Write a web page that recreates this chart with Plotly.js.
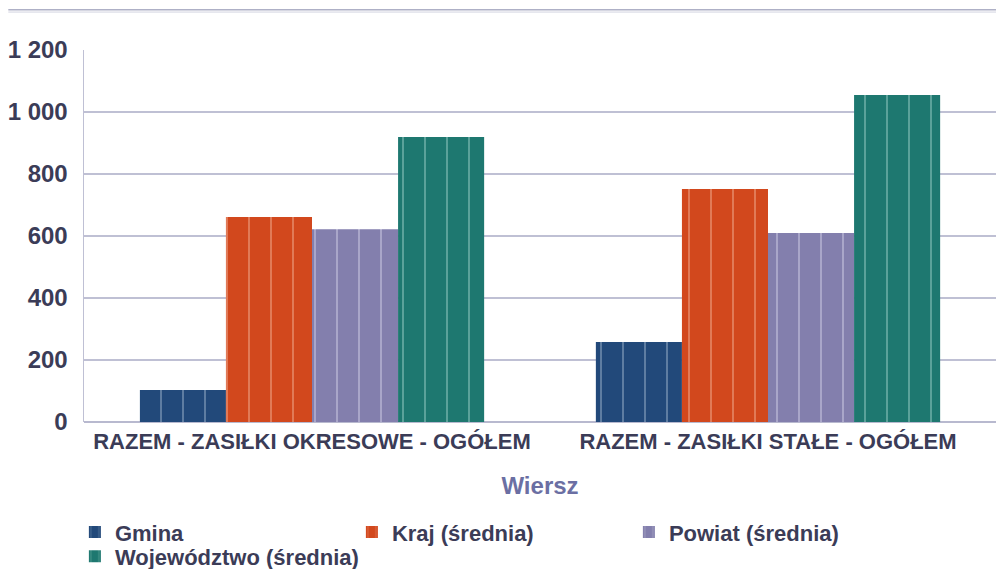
<!DOCTYPE html>
<html>
<head>
<meta charset="utf-8">
<script src="https://cdn.plot.ly/plotly-3.0.1.min.js"></script>
<style>
  html, body { margin: 0; padding: 0; background: #fff; }
  #chart { width: 996px; height: 569px; }
</style>
</head>
<body>
<div id="chart"></div>
<script>
// dane wykresu
const categories = ['RAZEM - ZASIŁKI OKRESOWE - OGÓŁEM', 'RAZEM - ZASIŁKI STAŁE - OGÓŁEM'];
const seriesNames = ['Gmina', 'Kraj (średnia)', 'Powiat (średnia)', 'Województwo (średnia)'];
const gmina = [103, 258];
const kraj = [661, 752];
const powiat = [622, 610];
const wojewodztwo = [919, 1055];
const yTicks = [0, 200, 400, 600, 800, 1000, 1200];

const seriesValues = [gmina, kraj, powiat, wojewodztwo];
const baseColors = ['#22497a', '#d2481d', '#837fad', '#1e7870'];
const stripeColors = ['#9fb4cc', '#f2b095', '#d2d0e6', '#9ccfc6'];
// legenda w dwóch wierszach: trzy pierwsze serie w pierwszym, Województwo w drugim
const legendRefs = ['legend', 'legend', 'legend', 'legend2'];

const fontFamily = '"Liberation Sans", Arial, sans-serif';
const textColor = '#3b3c57';

const traces = seriesValues.map((vals, i) => ({
    type: 'bar',
    name: seriesNames[i],
    x: categories,
    y: vals,
    legend: legendRefs[i],
    marker: {
        color: baseColors[i],
        line: { width: 0 },
        pattern: {
            shape: '|',
            bgcolor: baseColors[i],
            fgcolor: stripeColors[i],
            fgopacity: 0.55,
            size: 22,
            solidity: 0.08
        }
    },
    hoverinfo: 'y+name'
}));

const legendBase = {
    orientation: 'h',
    x: -0.010,
    xanchor: 'left',
    yanchor: 'top',
    bgcolor: 'rgba(0,0,0,0)',
    entrywidth: 232,
    entrywidthmode: 'pixels',
    font: { family: fontFamily, size: 22, color: textColor, weight: 'bold' },
    itemwidth: 30,
    tracegroupgap: 0
};

const layout = {
    width: 996,
    height: 569,
    margin: { l: 84, r: 0, t: 50, b: 147, autoexpand: false },
    paper_bgcolor: '#ffffff',
    plot_bgcolor: '#ffffff',
    barmode: 'group',
    bargap: 0.245,
    bargroupgap: 0,
    separators: ', ',
    font: { family: fontFamily, color: textColor, size: 20, weight: 'bold' },
    xaxis: {
        type: 'category',
        tickfont: { family: fontFamily, size: 22, color: textColor, weight: 'bold' },
        ticks: '',
        showline: false,
        ticklabelstandoff: 4,
        title: {
            text: 'Wiersz',
            font: { family: fontFamily, size: 24, color: '#6b6fa3', weight: 'bold' },
            standoff: 24
        }
    },
    yaxis: {
        range: [0, 1200],
        tickvals: yTicks,
        separatethousands: true,
        tickfont: { family: fontFamily, size: 24, color: textColor, weight: 'bold' },
        gridcolor: '#bfc0d4',
        gridwidth: 1.5,
        zeroline: true,
        zerolinecolor: '#b8b9cf',
        zerolinewidth: 2,
        showline: true,
        linecolor: '#bfc0d4',
        linewidth: 1.5,
        ticks: '',
        ticklabelstandoff: 10
    },
    legend: Object.assign({}, legendBase, { y: -0.240 }),
    legend2: Object.assign({}, legendBase, { y: -0.305, entrywidth: 320 }),
    shapes: [
        { type: 'line', xref: 'paper', yref: 'paper', x0: -0.083, x1: 1, y0: 1.108, y1: 1.108,
          line: { color: '#aeb0c6', width: 1.5 } },
        { type: 'line', xref: 'paper', yref: 'paper', x0: -0.083, x1: 1, y0: 1.102, y1: 1.102,
          line: { color: '#d2d3e0', width: 1 } }
    ],
    showlegend: true
};

Plotly.newPlot('chart', traces, layout, { displayModeBar: false, staticPlot: true });
</script>
</body>
</html>
